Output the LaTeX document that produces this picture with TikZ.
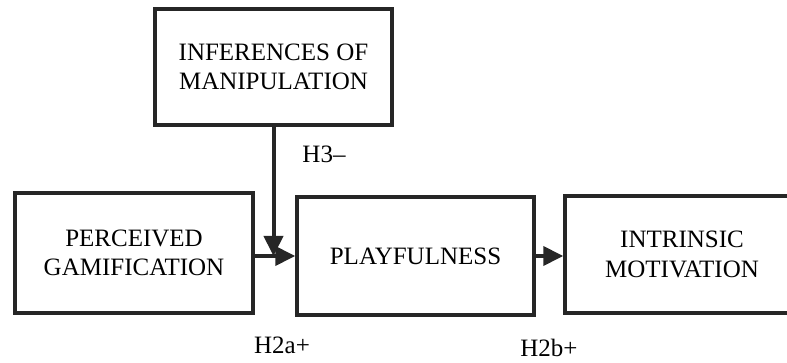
\documentclass[tikz,border=0pt]{standalone}
\usepackage{fontspec}
\setmainfont{Liberation Serif}
\usetikzlibrary{arrows.meta}

\begin{document}
\begin{tikzpicture}[x=1pt, y=-1pt, line join=miter,
    box/.style={draw=black!85, line width=3.5pt, align=center, inner sep=0pt, font=\fontsize{25}{29.5}\selectfont},
    link/.style={draw=black!85, line width=4pt, -{Triangle[length=20pt,width=19pt]}},
    lbl/.style={font=\fontsize{25}{29.5}\selectfont}]

    \useasboundingbox (0,0) rectangle (787,363);

    \node[box, minimum width=237pt, minimum height=116pt] (infer) at (273.5,67) {INFERENCES OF\\MANIPULATION};
    \node[box, minimum width=238pt, minimum height=120pt] (perceived) at (134,253) {PERCEIVED\\GAMIFICATION};
    \node[box, minimum width=237pt, minimum height=118pt] (playful) at (415.5,256) {PLAYFULNESS};
    \node[box, minimum width=234pt, minimum height=117pt] (intrinsic) at (682,254.5) {INTRINSIC\\MOTIVATION};

    \draw[link] (perceived.east |- playful.west) -- (playful.west);
    \draw[link] (infer.south) -- (infer.south |- playful.west);
    \draw[link] (playful.east) -- (playful.east -| intrinsic.west);

    \node[lbl] (h3) at (324,154) {H3--};
    \node[lbl] (h2a) at (282,345) {H2a+};
    \node[lbl] (h2b) at (549,348) {H2b+};

\end{tikzpicture}
\end{document}
